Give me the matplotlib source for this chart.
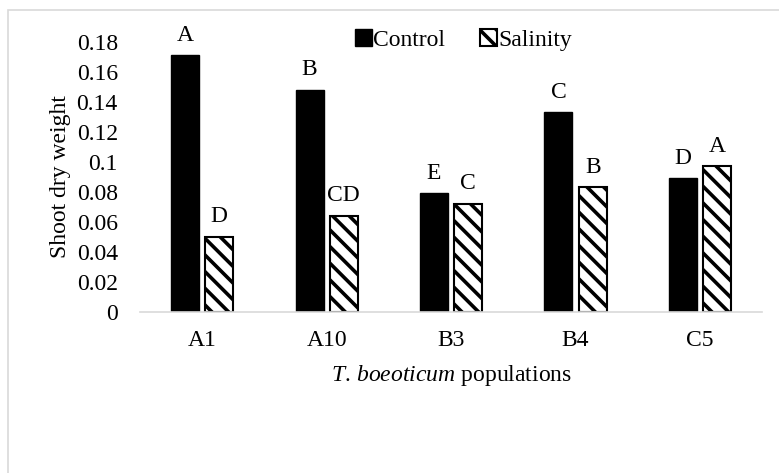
import matplotlib
matplotlib.use("Agg")
import matplotlib.pyplot as plt
import numpy as np
from matplotlib.patches import Patch, Rectangle

# %% data
populations = ["A1", "A10", "B3", "B4", "C5"]
control = [0.171, 0.148, 0.079, 0.133, 0.089]
salinity = [0.050, 0.064, 0.072, 0.083, 0.097]
control_letters = ["A", "B", "E", "C", "D"]
salinity_letters = ["D", "CD", "C", "B", "A"]
yticks = [0, 0.02, 0.04, 0.06, 0.08, 0.1, 0.12, 0.14, 0.16, 0.18]

# %%
plt.rcParams["font.family"] = ["Liberation Serif", "DejaVu Serif"]
plt.rcParams["font.size"] = 17
plt.rcParams["mathtext.fontset"] = "custom"
plt.rcParams["mathtext.rm"] = "Liberation Serif"
plt.rcParams["mathtext.it"] = "Liberation Serif:italic"
plt.rcParams["hatch.linewidth"] = 2.6
plt.rcParams["hatch.color"] = "black"

fig = plt.figure(figsize=(7.79, 4.73), dpi=100)
ax = fig.add_axes([0.1797, 0.3414, 0.7988, 0.5698])

# light grey chart border (Excel style)
fig.patches.append(Rectangle((8 / 779, -0.1), 1.2, 1.1 - 10 / 473,
                             transform=fig.transFigure, fill=False,
                             edgecolor="#d9d9d9", linewidth=1.2))

x = np.arange(len(populations))
w = 0.225
off = 0.1375
b1 = ax.bar(x - off, control, w, color="black", edgecolor="black", linewidth=1)
b2 = ax.bar(x + off, salinity, w, color="white", edgecolor="black",
            linewidth=1.5, hatch="\\\\")

for rect, lab in zip(b1, control_letters):
    ax.annotate(lab, (rect.get_x() + rect.get_width() / 2, rect.get_height()),
                xytext=(0, 7), textcoords="offset points", ha="center",
                va="bottom", fontsize=17, annotation_clip=False)
for rect, lab in zip(b2, salinity_letters):
    ax.annotate(lab, (rect.get_x() + rect.get_width() / 2, rect.get_height()),
                xytext=(0, 7), textcoords="offset points", ha="center",
                va="bottom", fontsize=17, annotation_clip=False)

ax.set_xlim(-0.5, len(populations) - 0.5)
ax.set_ylim(0, 0.18)
ax.set_yticks(yticks)
ax.set_yticklabels([f"{v:g}" for v in yticks])
ax.set_xticks(x)
ax.set_xticklabels(populations)
ax.tick_params(axis="y", length=0, pad=16)
ax.tick_params(axis="x", length=0, pad=13)

for s in ["top", "right", "left"]:
    ax.spines[s].set_visible(False)
ax.spines["bottom"].set_color("#d9d9d9")
ax.spines["bottom"].set_linewidth(1.2)

ax.set_ylabel("Shoot dry weight", labelpad=4)
ax.set_xlabel(r"$\it{T.\,boeoticum}$ populations", labelpad=9)

handles = [Patch(facecolor="black", edgecolor="black", label="Control"),
           Patch(facecolor="white", edgecolor="black", hatch="\\\\",
                 linewidth=1.5, label="Salinity")]
ax.legend(handles=handles, loc="center", bbox_to_anchor=(0.52, 1.007),
          ncol=2, frameon=False, handlelength=0.7, handleheight=0.7,
          handletextpad=0.05, columnspacing=1.5, fontsize=17)

fig.savefig("out.png", dpi=100)
